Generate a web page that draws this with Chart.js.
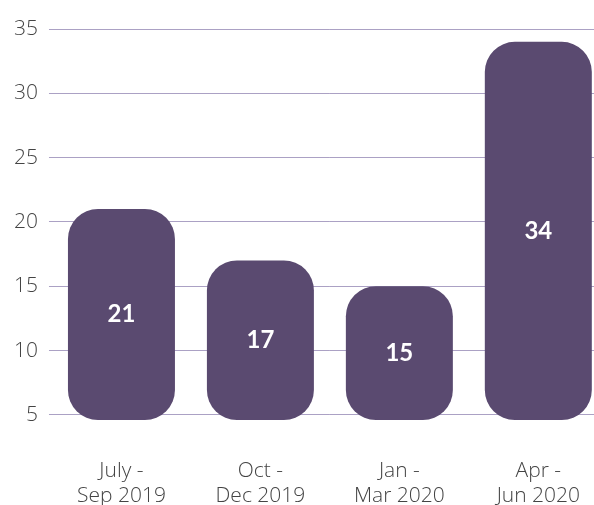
<!DOCTYPE html>
<html>
<head>
<meta charset="utf-8">
<script src="https://cdn.jsdelivr.net/npm/chart.js@4/dist/chart.umd.min.js"></script>
<style>
  html, body { margin: 0; padding: 0; background: #fff; overflow: hidden; }
  .graph-container { position: relative; width: 610px; height: 505px; }
</style>
</head>
<body>
<div class="graph-container">
  <canvas id="graph"></canvas>
</div>
<script>
// quarterly counts
const quarters = [['July -', 'Sep 2019'], ['Oct -', 'Dec 2019'], ['Jan -', 'Mar 2020'], ['Apr -', 'Jun 2020']];
const counts = [21, 17, 15, 34];
const yTicks = [5, 10, 15, 20, 25, 30, 35];

const barColor = '#5a4a70';
const gridColor = '#aba1c4';
const labelFont = "'Open Sans', 'Lato', sans-serif";

// white value text in the middle of each bar
const valueLabels = {
  id: 'valueLabels',
  afterDatasetsDraw(chart) {
    const ctx = chart.ctx;
    const meta = chart.getDatasetMeta(0);
    ctx.save();
    ctx.fillStyle = '#ffffff';
    ctx.font = "bold 24px 'Lato', sans-serif";
    ctx.textAlign = 'center';
    ctx.textBaseline = 'middle';
    meta.data.forEach((bar, i) => {
      const mid = (bar.y + bar.base) / 2;
      ctx.fillText(String(counts[i]), bar.x, mid);
    });
    ctx.restore();
  }
};

const ctx = document.getElementById('graph').getContext('2d');
new Chart(ctx, {
  type: 'bar',
  data: {
    labels: quarters,
    datasets: [{
      data: counts,
      base: 4.6,
      backgroundColor: barColor,
      borderRadius: 30,
      borderSkipped: false,
      barPercentage: 0.77,
      categoryPercentage: 1
    }]
  },
  options: {
    responsive: true,
    maintainAspectRatio: false,
    animation: false,
    layout: {
      padding: { left: 3, right: 0, top: 29, bottom: 0 }
    },
    plugins: {
      legend: { display: false },
      tooltip: { enabled: false }
    },
    scales: {
      x: {
        afterFit(scale) {
          scale.height = 85;
        },
        grid: { display: false },
        border: { display: false },
        ticks: {
          color: '#444',
          padding: 30,
          font: { family: labelFont, size: 21, weight: 300, lineHeight: 1.2 }
        }
      },
      y: {
        min: 4.6,
        max: 35,
        afterBuildTicks(scale) {
          scale.ticks = yTicks.map(v => ({ value: v }));
        },
        grid: {
          color: gridColor,
          lineWidth: 1,
          drawTicks: true,
          tickLength: 3
        },
        border: { display: false },
        ticks: {
          color: '#444',
          padding: 11,
          font: { family: labelFont, size: 21, weight: 300 }
        }
      }
    }
  },
  plugins: [valueLabels]
});
</script>
</body>
</html>
